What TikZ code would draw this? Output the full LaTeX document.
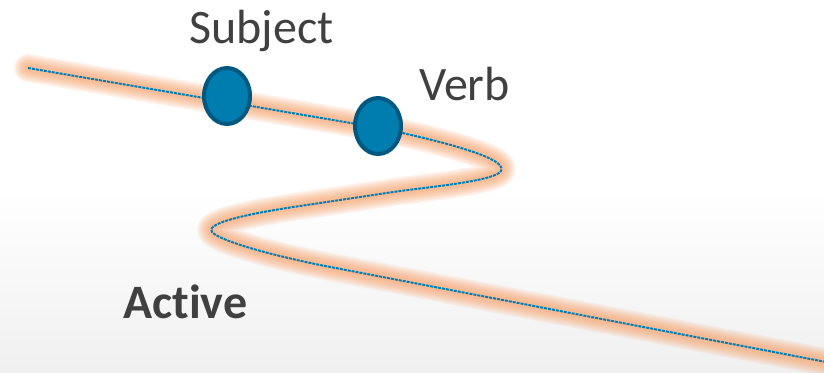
\documentclass[tikz,border=0pt]{standalone}
\usepackage{fontspec}
\setmainfont[RawFeature=-liga]{Carlito}
\usetikzlibrary{shapes.geometric}
\definecolor{glow}{RGB}{248,155,95}
\definecolor{lineblue}{RGB}{0,125,180}
\definecolor{dotfill}{RGB}{0,125,175}
\definecolor{dotedge}{RGB}{0,88,128}
\definecolor{txt}{RGB}{64,64,64}
\definecolor{bggray}{RGB}{240,240,240}
\tikzset{
  dot/.style={ellipse, draw=dotedge, fill=dotfill, line width=4pt, minimum width=46pt, minimum height=56pt, inner sep=0pt},
  lbl/.style={anchor=base west, inner sep=0pt, text=txt, font=\fontsize{48}{52}\selectfont},
  glowline/.style={draw=glow, line cap=round, line join=round, draw opacity=0.115},
  thread/.style={draw=lineblue, line width=2pt, dash pattern=on 3pt off 1pt}
}
\begin{document}
\begin{tikzpicture}[x=1pt,y=-1pt]
\useasboundingbox (0,0) rectangle (824,372);
\fill[white] (0,0) rectangle (824,372);
\shade[top color=white, bottom color=bggray] (0,190) rectangle (824,372);
% path coordinates
\coordinate (s) at (28,68);
\coordinate (e) at (826,362);
\def\curvepath{(s) -- (380,128) .. controls (478,149) and (506,162) .. (501,171) .. controls (496,180) and (440,186) .. (400,191) -- (300,206) .. controls (232,216) and (206,225) .. (212,232) .. controls (219,240) and (262,253) .. (320,265) -- (e)}
\foreach \w in {28,25,22,19,16,13,10,7} {
  \path[glowline, line width=\w pt] \curvepath;
}
\path[thread] \curvepath;
\node[dot] (subj) at (227,96) {};
\node[dot] (verb) at (378,126) {};
\node[lbl] (subjlbl) at (189,43) {Subject};
\node[lbl] (verblbl) at (419,100) {Verb};
\node[lbl, font=\fontsize{48}{52}\selectfont\bfseries] (active) at (123,318) {Active};
\end{tikzpicture}
\end{document}
